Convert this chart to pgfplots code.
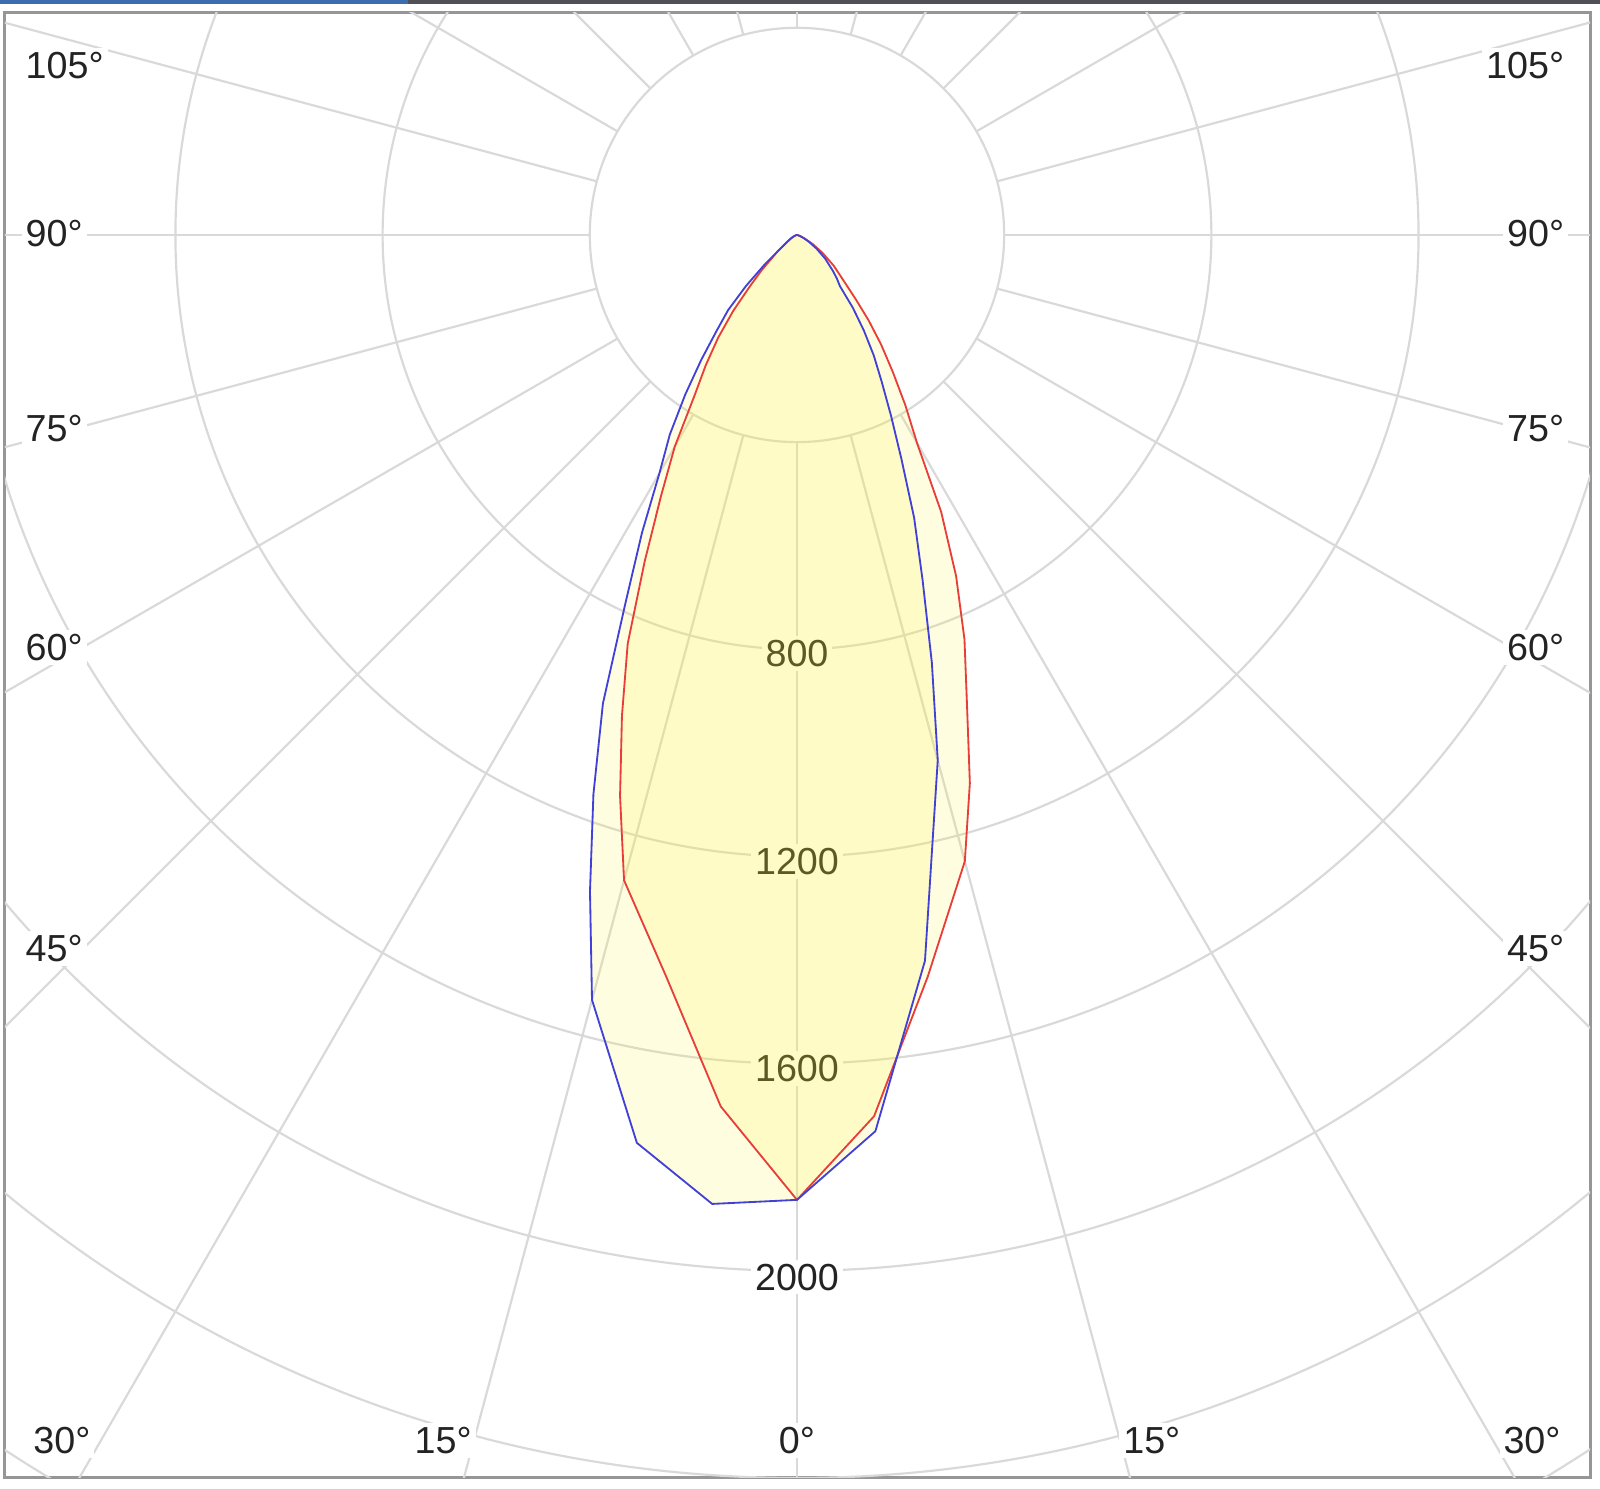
\documentclass[border=0pt]{standalone}
\usepackage{pgfplots}
\pgfplotsset{compat=1.18}
\usepackage{pgfplotstable}
\usepackage{fontspec}
\setmainfont{Liberation Sans}
\definecolor{gridc}{RGB}{217,217,217}
\definecolor{txt}{RGB}{35,35,35}
\definecolor{bluec}{RGB}{65,65,215}
\definecolor{redc}{RGB}{232,62,58}
\definecolor{fillc}{RGB}{255,245,40}
\definecolor{framec}{RGB}{150,150,150}
\definecolor{topblue}{RGB}{60,110,175}
\definecolor{topdark}{RGB}{80,80,85}

% signed gamma: negative = left half, positive = right half; I in cd
\pgfplotstableread{
g I
-90 0
-85 0
-80 0
-75 2
-70 4
-65 8
-60 13
-55 22
-50 45
-47.5 86
-45 139
-42.5 197
-40 241
-37.5 303
-35 376
-32.5 457
-30 531
-27.5 648
-25 783
-22.5 979
-20 1149
-17.5 1329
-15 1529
-10 1780
-5 1878
0 1863
5 1737
10 1423
15 1050
17.5 866
20 709
22.5 591
25 477
27.5 393
30 327
32.5 276
35 225
37.5 177
40 129
42.5 114
45 98
50 71
55 46
60 27
65 14
70 6
75 2
80 0
85 0
90 0
}\blueplane

\pgfplotstableread{
g I
-90 0
-85 0
-80 0
-75 2
-70 4
-65 8
-60 14
-55 23
-50 48
-45 97
-42.5 135
-40 192
-37.5 250
-35 307
-32.5 369
-30 472
-27.5 569
-25 696
-22.5 854
-20 988
-17.5 1136
-15 1290
-10 1454
-5 1689
0 1863
5 1708
10 1454
15 1252
17.5 1110
20 959
22.5 845
25 727
27.5 603
30 463
32.5 389
35 322
37.5 267
40 215
42.5 167
45 132
50 93
55 60
60 35
65 17
70 8
75 2
80 0
85 0
90 0
}\redplane

\begin{document}
\begin{tikzpicture}[lab/.style={fill=white, inner sep=1.2pt, text=txt, font=\fontsize{11.3}{13}\selectfont}]
\path[fill=white] (0pt,0pt) rectangle (480pt,446.7pt);
\fill[topblue] (0pt,445.5pt) rectangle (122.4pt,446.7pt);
\fill[topdark] (122.4pt,445.5pt) rectangle (480pt,446.7pt);
\begin{axis}[
  at={(1.5pt,3.3pt)}, anchor=south west,
  scale only axis, width=475.5pt, height=439.5pt,
  xmin=-1529, xmax=1531, ymin=-2400, ymax=428.6,
  axis line style={draw=framec, line width=0.9pt},
  xtick=\empty, ytick=\empty,
  clip=true,
]
% grid circles
\pgfplotsinvokeforeach{400,800,1200,1600,2000,2400,2800}{
  \draw[gridc, line width=0.65pt] (axis cs:0,0) circle[radius=#1];
}
% spokes every 15 degrees
\pgfplotsinvokeforeach{0,15,30,45,60,75,90,105,120,135,150,165,180}{
  \draw[gridc, line width=0.65pt] (axis cs:{400*sin(#1)},{-400*cos(#1)}) -- (axis cs:{3400*sin(#1)},{-3400*cos(#1)});
  \draw[gridc, line width=0.65pt] (axis cs:{-400*sin(#1)},{-400*cos(#1)}) -- (axis cs:{-3400*sin(#1)},{-3400*cos(#1)});
}
% angle labels
\node[lab, anchor=west] at (axis cs:-1498,328) {105°};
\node[lab, anchor=west] at (axis cs:-1498,2) {90°};
\node[lab, anchor=west] at (axis cs:-1498,-373) {75°};
\node[lab, anchor=west] at (axis cs:-1498,-797) {60°};
\node[lab, anchor=west] at (axis cs:-1498,-1378) {45°};
\node[lab, anchor=east] at (axis cs:1490,328) {105°};
\node[lab, anchor=east] at (axis cs:1490,2) {90°};
\node[lab, anchor=east] at (axis cs:1490,-373) {75°};
\node[lab, anchor=east] at (axis cs:1490,-797) {60°};
\node[lab, anchor=east] at (axis cs:1490,-1378) {45°};
\node[lab] at (axis cs:-1419,-2328) {30°};
\node[lab] at (axis cs:-683,-2328) {15°};
\node[lab] at (axis cs:0,-2328) {0°};
\node[lab] at (axis cs:685,-2328) {15°};
\node[lab] at (axis cs:1419,-2328) {30°};
% radial labels
\node[lab] at (axis cs:0,-808) {800};
\node[lab] at (axis cs:0,-1210) {1200};
\node[lab] at (axis cs:0,-1610) {1600};
\node[lab] at (axis cs:0,-2012) {2000};
% fills
\addplot[draw=none, fill=fillc, fill opacity=0.14] table[x expr={\thisrow{I}*sin(\thisrow{g})}, y expr={-\thisrow{I}*cos(\thisrow{g})}] {\blueplane};
\addplot[draw=none, fill=fillc, fill opacity=0.14] table[x expr={\thisrow{I}*sin(\thisrow{g})}, y expr={-\thisrow{I}*cos(\thisrow{g})}] {\redplane};
% curves
\addplot[redc, line width=0.55pt, mark=none, line join=round] table[x expr={\thisrow{I}*sin(\thisrow{g})}, y expr={-\thisrow{I}*cos(\thisrow{g})}] {\redplane};
\addplot[bluec, line width=0.55pt, mark=none, line join=round] table[x expr={\thisrow{I}*sin(\thisrow{g})}, y expr={-\thisrow{I}*cos(\thisrow{g})}] {\blueplane};
\end{axis}
\end{tikzpicture}
\end{document}
